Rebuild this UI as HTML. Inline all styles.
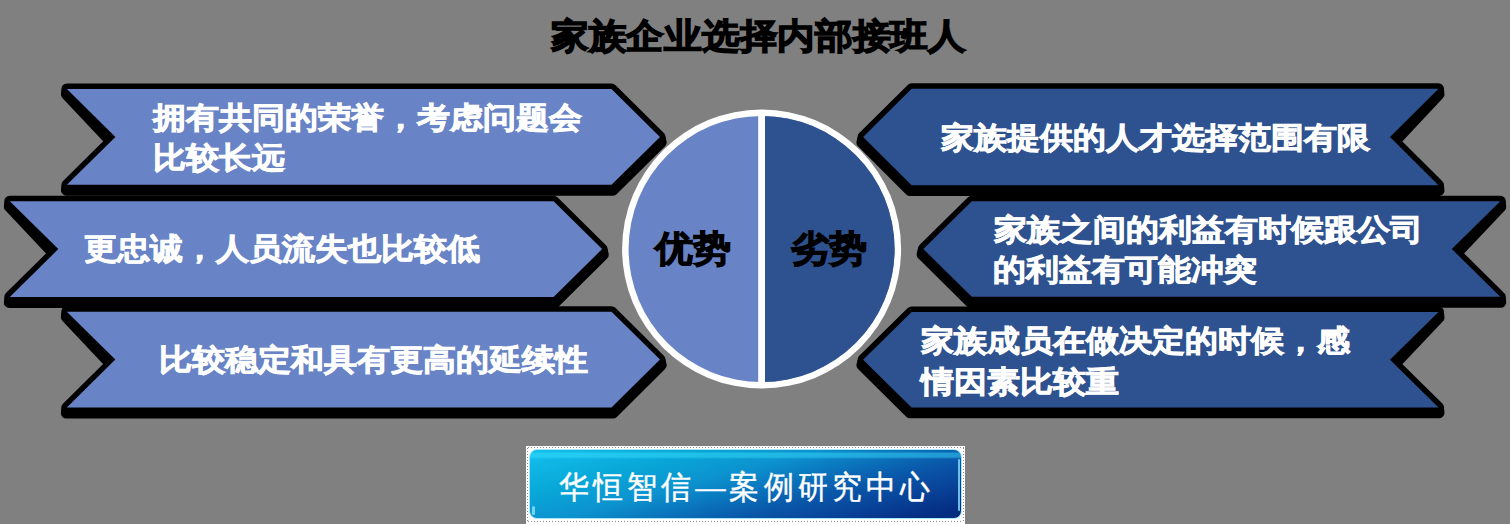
<!DOCTYPE html>
<html><head><meta charset="utf-8">
<style>
html,body{margin:0;padding:0;}
body{width:1510px;height:524px;overflow:hidden;background:#808080;position:relative;font-family:"Liberation Sans",sans-serif;}
svg{position:absolute;left:0;top:0;}
.t{position:absolute;white-space:nowrap;color:#fff;font-weight:bold;font-size:33px;line-height:40px;height:40px;transform:scaleY(0.91);transform-origin:50% 50%;-webkit-text-stroke:0.9px #fff;}
.title{position:absolute;white-space:nowrap;color:#000;font-weight:bold;font-size:37.6px;line-height:40px;height:40px;left:551px;top:15.5px;letter-spacing:-0.3px;transform:scaleY(0.93);transform-origin:50% 50%;-webkit-text-stroke:1.5px #000;}
.ct{position:absolute;white-space:nowrap;color:#000;font-weight:bold;font-size:38px;line-height:40px;height:40px;transform:scaleY(0.95);transform-origin:50% 50%;-webkit-text-stroke:1.3px #000;}
.badge{position:absolute;left:526px;top:446px;width:439px;height:78px;background:#fff;}
.dot{position:absolute;background:repeating-linear-gradient(90deg,#8a8a8a 0,#8a8a8a 1px,#fff 1px,#fff 3px);}
.dotv{position:absolute;background:repeating-linear-gradient(180deg,#8a8a8a 0,#8a8a8a 1px,#fff 1px,#fff 3px);}
.btn{position:absolute;left:529px;top:449px;width:433px;height:70px;border-radius:8px;box-sizing:border-box;
 border:1px solid #a6e6fa;
 background:linear-gradient(180deg,rgba(255,255,255,0) 0px,rgba(255,255,255,0) 2px,rgba(60,225,255,0.45) 3px,rgba(60,225,255,0.45) 7px,rgba(255,255,255,0) 9px),
 linear-gradient(165deg,#14c0ee 0%,#08a8d8 24%,#0c92cf 42%,#0a74bc 55%,#0a58aa 67%,#08449a 80%,#052f84 93%,#032a7c 100%);}
.hl{position:absolute;left:958px;top:459px;width:1.5px;height:52px;background:rgba(140,220,255,0.8);border-radius:1px;}
.hl2{position:absolute;left:532px;top:506px;width:3px;height:9px;background:rgba(160,240,255,0.7);border-radius:2px;}
.bt{position:absolute;white-space:nowrap;color:#fff;font-family:"Liberation Serif",serif;font-size:30px;line-height:34px;left:559px;top:470px;letter-spacing:4.1px;height:34px;transform:scaleY(1.07);transform-origin:50% 50%;-webkit-text-stroke:0.4px #fff;}
</style></head><body>
<svg width="1510" height="524" viewBox="0 0 1510 524">
 <g fill="#000" stroke="#000" stroke-width="11.0" stroke-linejoin="round">
  <polygon points="66.9,88.9 611.5,88.9 660.0,136.9 611.5,184.8 66.9,184.8 115.4,136.9"/>
  <polygon points="9.8,201.2 553.6,201.2 602.1,249.1 553.6,297.0 9.8,297.0 58.3,249.1"/>
  <polygon points="66.8,311.7 611.5,311.7 660.0,359.6 611.5,407.6 66.8,407.6 115.3,359.6"/>
  <polygon points="66.4,94.3 612.0,94.3 661.2,142.3 613.0,190.2 66.4,190.2 111.6,142.3"/>
  <polygon points="9.3,206.6 554.1,206.6 603.3,254.5 555.1,302.4 9.3,302.4 54.5,254.5"/>
  <polygon points="66.3,317.1 612.0,317.1 661.2,365.0 613.0,413.0 66.3,413.0 111.5,365.0"/>
  <polygon points="66.7,91.6 611.8,91.6 660.6,139.6 612.2,187.5 66.7,187.5 113.5,139.6"/>
  <polygon points="9.6,203.9 553.9,203.9 602.7,251.8 554.4,299.7 9.6,299.7 56.4,251.8"/>
  <polygon points="66.5,314.4 611.8,314.4 660.6,362.3 612.2,410.3 66.5,410.3 113.4,362.3"/>
  <polygon points="911.6,88.8 1438.5,88.8 1390.0,137.0 1438.5,185.2 911.6,185.2 863.1,137.0"/>
  <polygon points="971.8,201.2 1500.3,201.2 1451.8,249.0 1500.3,296.8 971.8,296.8 923.3,249.0"/>
  <polygon points="911.6,312.0 1438.5,312.0 1390.0,359.7 1438.5,407.4 911.6,407.4 863.1,359.7"/>
  <polygon points="911.1,94.2 1439.0,94.2 1393.8,142.4 1439.0,190.6 910.1,190.6 861.9,142.4"/>
  <polygon points="971.3,206.6 1500.8,206.6 1455.6,254.4 1500.8,302.2 970.3,302.2 922.1,254.4"/>
  <polygon points="911.1,317.4 1439.0,317.4 1393.8,365.1 1439.0,412.8 910.1,412.8 861.9,365.1"/>
  <polygon points="911.4,91.5 1438.8,91.5 1391.9,139.7 1438.8,187.9 910.9,187.9 862.5,139.7"/>
  <polygon points="971.5,203.9 1500.5,203.9 1453.7,251.7 1500.5,299.5 971.0,299.5 922.7,251.7"/>
  <polygon points="911.4,314.7 1438.8,314.7 1391.9,362.4 1438.8,410.1 910.9,410.1 862.5,362.4"/>
 </g>
 <g fill="#6884c6">
  <polygon points="66.9,88.9 611.5,88.9 660.0,136.9 611.5,184.8 66.9,184.8 115.4,136.9"/>
  <polygon points="9.8,201.2 553.6,201.2 602.1,249.1 553.6,297.0 9.8,297.0 58.3,249.1"/>
  <polygon points="66.8,311.7 611.5,311.7 660.0,359.6 611.5,407.6 66.8,407.6 115.3,359.6"/>
 </g>
 <g fill="#2e528f">
  <polygon points="911.6,88.8 1438.5,88.8 1390.0,137.0 1438.5,185.2 911.6,185.2 863.1,137.0"/>
  <polygon points="971.8,201.2 1500.3,201.2 1451.8,249.0 1500.3,296.8 971.8,296.8 923.3,249.0"/>
  <polygon points="911.6,312.0 1438.5,312.0 1390.0,359.7 1438.5,407.4 911.6,407.4 863.1,359.7"/>
 </g>
 <circle cx="761.6" cy="249" r="139.5" fill="#fff"/>
 <circle cx="761.6" cy="249" r="133" fill="#6884c6"/>
 <path d="M761.6,116 A133,133 0 0 1 761.6,382 Z" fill="#2e528f"/>
 <rect x="758.2" y="112" width="6.8" height="274" fill="#fff"/>
</svg>
<div class="title">家族企业选择内部接班人</div>
<div class="t" style="left:153px;top:97.55px;">拥有共同的荣誉，考虑问题会</div>
<div class="t" style="left:153px;top:137.85px;">比较长远</div>
<div class="t" style="left:84px;top:229.35px;">更忠诚，人员流失也比较低</div>
<div class="t" style="left:159px;top:340.15px;">比较稳定和具有更高的延续性</div>
<div class="t" style="left:941px;top:117.85px;">家族提供的人才选择范围有限</div>
<div class="t" style="left:994px;top:210.25px;">家族之间的利益有时候跟公司</div>
<div class="t" style="left:993px;top:250.45px;">的利益有可能冲突</div>
<div class="t" style="left:921px;top:321.35px;">家族成员在做决定的时候，感</div>
<div class="t" style="left:921px;top:361.75px;">情因素比较重</div>
<div class="ct" style="left:655px;top:228.5px;">优势</div>
<div class="ct" style="left:791px;top:228.5px;">劣势</div>
<div class="badge"></div>
<div class="dot" style="left:528px;top:447px;width:436px;height:1px;"></div>
<div class="dot" style="left:528px;top:521px;width:436px;height:1px;"></div>
<div class="dotv" style="left:527px;top:448px;width:1px;height:74px;"></div>
<div class="dotv" style="left:963px;top:448px;width:1px;height:74px;"></div>
<div class="btn"></div>
<div class="hl"></div>
<div class="hl2"></div>
<div class="bt">华恒智信—案例研究中心</div>
</body></html>
